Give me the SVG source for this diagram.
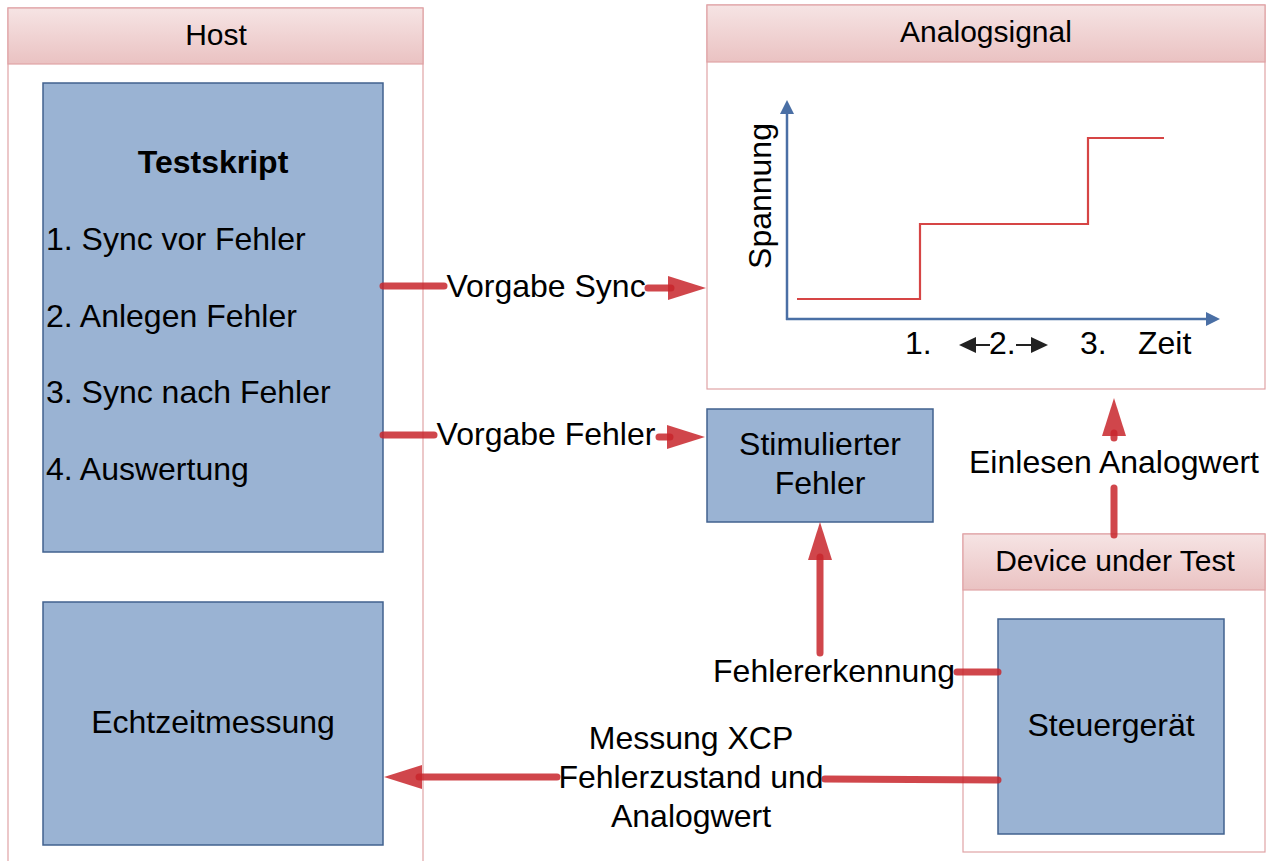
<svg xmlns="http://www.w3.org/2000/svg" width="1266" height="861" viewBox="0 0 1266 861">
<defs>
  <linearGradient id="hdr" x1="0" y1="0" x2="0" y2="1">
    <stop offset="0" stop-color="#f6e4e4"/>
    <stop offset="1" stop-color="#eac2c2"/>
  </linearGradient>
  <marker id="ah" viewBox="0 0 38 24" refX="3" refY="12" markerWidth="38" markerHeight="24" markerUnits="userSpaceOnUse" orient="auto">
    <path d="M0,0 L38,12 L0,24 Z" fill="#c8262b" fill-opacity="0.85"/>
  </marker>
  <marker id="axh" viewBox="0 0 14 14" refX="1" refY="7" markerWidth="14" markerHeight="14" markerUnits="userSpaceOnUse" orient="auto">
    <path d="M0,0 L14,7 L0,14 Z" fill="#4a6fa5"/>
  </marker>
</defs>
<style>
  text { font-family: "Liberation Sans", Arial, sans-serif; fill: #000; }
  .cbody { fill: #fff; stroke: #e0a3a6; stroke-width: 1.2; }
  .chead { fill: url(#hdr); stroke: #e0a3a6; stroke-width: 1.2; }
  .htxt { font-size: 30px; text-anchor: middle; }
  .box { fill: #9ab3d3; stroke: #41628f; stroke-width: 1.5; }
  .lbl { font-size: 32px; }
  .mid { text-anchor: middle; }
  .conn { fill: none; stroke: #c8262b; stroke-opacity: 0.85; stroke-width: 7; stroke-linecap: round; }
  .axis { fill: none; stroke: #4a6fa5; stroke-width: 2.5; }
  .sig { fill: none; stroke: #d64545; stroke-width: 2.2; }
</style>

<g id="host">
  <rect class="cbody" x="8" y="8" width="415" height="870"/>
  <rect class="chead" x="8" y="8" width="415" height="56"/>
  <text class="htxt" x="216" y="45">Host</text>
</g>

<g id="testskript">
  <rect class="box" x="43" y="83" width="340" height="469"/>
  <text class="lbl mid" x="213" y="173" style="font-weight:bold">Testskript</text>
  <text class="lbl" x="46" y="250">1. Sync vor Fehler</text>
  <text class="lbl" x="46" y="327">2. Anlegen Fehler</text>
  <text class="lbl" x="46" y="403">3. Sync nach Fehler</text>
  <text class="lbl" x="46" y="480">4. Auswertung</text>
</g>

<g id="echtzeitmessung">
  <rect class="box" x="43" y="602" width="340" height="243"/>
  <text class="lbl mid" x="213" y="733">Echtzeitmessung</text>
</g>

<g id="analogsignal">
  <rect class="cbody" x="707" y="5" width="558" height="384"/>
  <rect class="chead" x="707" y="5" width="558" height="57"/>
  <text class="htxt" x="986" y="42">Analogsignal</text>
  <line class="axis" x1="787" y1="320" x2="787" y2="113" marker-end="url(#axh)"/>
  <line class="axis" x1="786" y1="319" x2="1207" y2="319" marker-end="url(#axh)"/>
  <polyline class="sig" points="797,299 920,299 920,224 1088,224 1088,138 1164,138"/>
  <text class="lbl mid" transform="translate(771,196) rotate(-90)">Spannung</text>
  <text class="lbl" x="905" y="354">1.</text>
  <text class="lbl" x="989" y="354">2.</text>
  <line x1="972" y1="345" x2="990" y2="345" stroke="#222" stroke-width="2"/>
  <line x1="1016" y1="345" x2="1034" y2="345" stroke="#222" stroke-width="2"/>
  <polygon points="959,345 976,337 976,353" fill="#222"/>
  <polygon points="1048,345 1031,337 1031,353" fill="#222"/>
  <text class="lbl" x="1080" y="354">3.</text>
  <text class="lbl" x="1138" y="354">Zeit</text>
</g>

<g id="stimulierter-fehler">
  <rect class="box" x="707" y="409" width="226" height="113"/>
  <text class="lbl mid" x="820" y="455">Stimulierter</text>
  <text class="lbl mid" x="820" y="494">Fehler</text>
</g>

<g id="device-under-test">
  <rect class="cbody" x="963" y="534" width="302" height="318"/>
  <rect class="chead" x="963" y="534" width="302" height="56"/>
  <text class="htxt" x="1115" y="571">Device under Test</text>
</g>

<g id="steuergeraet">
  <rect class="box" x="998" y="619" width="226" height="215"/>
  <text class="lbl mid" x="1111" y="736">Steuergerät</text>
</g>

<g id="connectors">
  <path class="conn" d="M383,286 L444,286"/>
  <path class="conn" d="M648,288 L671,288" marker-end="url(#ah)"/>
  <text class="lbl mid" x="546" y="297">Vorgabe Sync</text>

  <path class="conn" d="M383,435 L434,435"/>
  <path class="conn" d="M659,437 L670,437" marker-end="url(#ah)"/>
  <text class="lbl mid" x="546" y="445">Vorgabe Fehler</text>

  <path class="conn" d="M1114,535 L1114,488"/>
  <path class="conn" d="M1114,438 L1114,433" marker-end="url(#ah)"/>
  <text class="lbl mid" x="1114" y="473">Einlesen Analogwert</text>

  <path class="conn" d="M998,672 L957,672"/>
  <path class="conn" d="M820,653 L820,557" marker-end="url(#ah)"/>
  <text class="lbl mid" x="834" y="682">Fehlererkennung</text>

  <path class="conn" d="M998,780 L825,779"/>
  <path class="conn" d="M557,777 L419,777" marker-end="url(#ah)"/>
  <text class="lbl mid" x="691" y="749">Messung XCP</text>
  <text class="lbl mid" x="691" y="788">Fehlerzustand und</text>
  <text class="lbl mid" x="691" y="827">Analogwert</text>
</g>
</svg>
